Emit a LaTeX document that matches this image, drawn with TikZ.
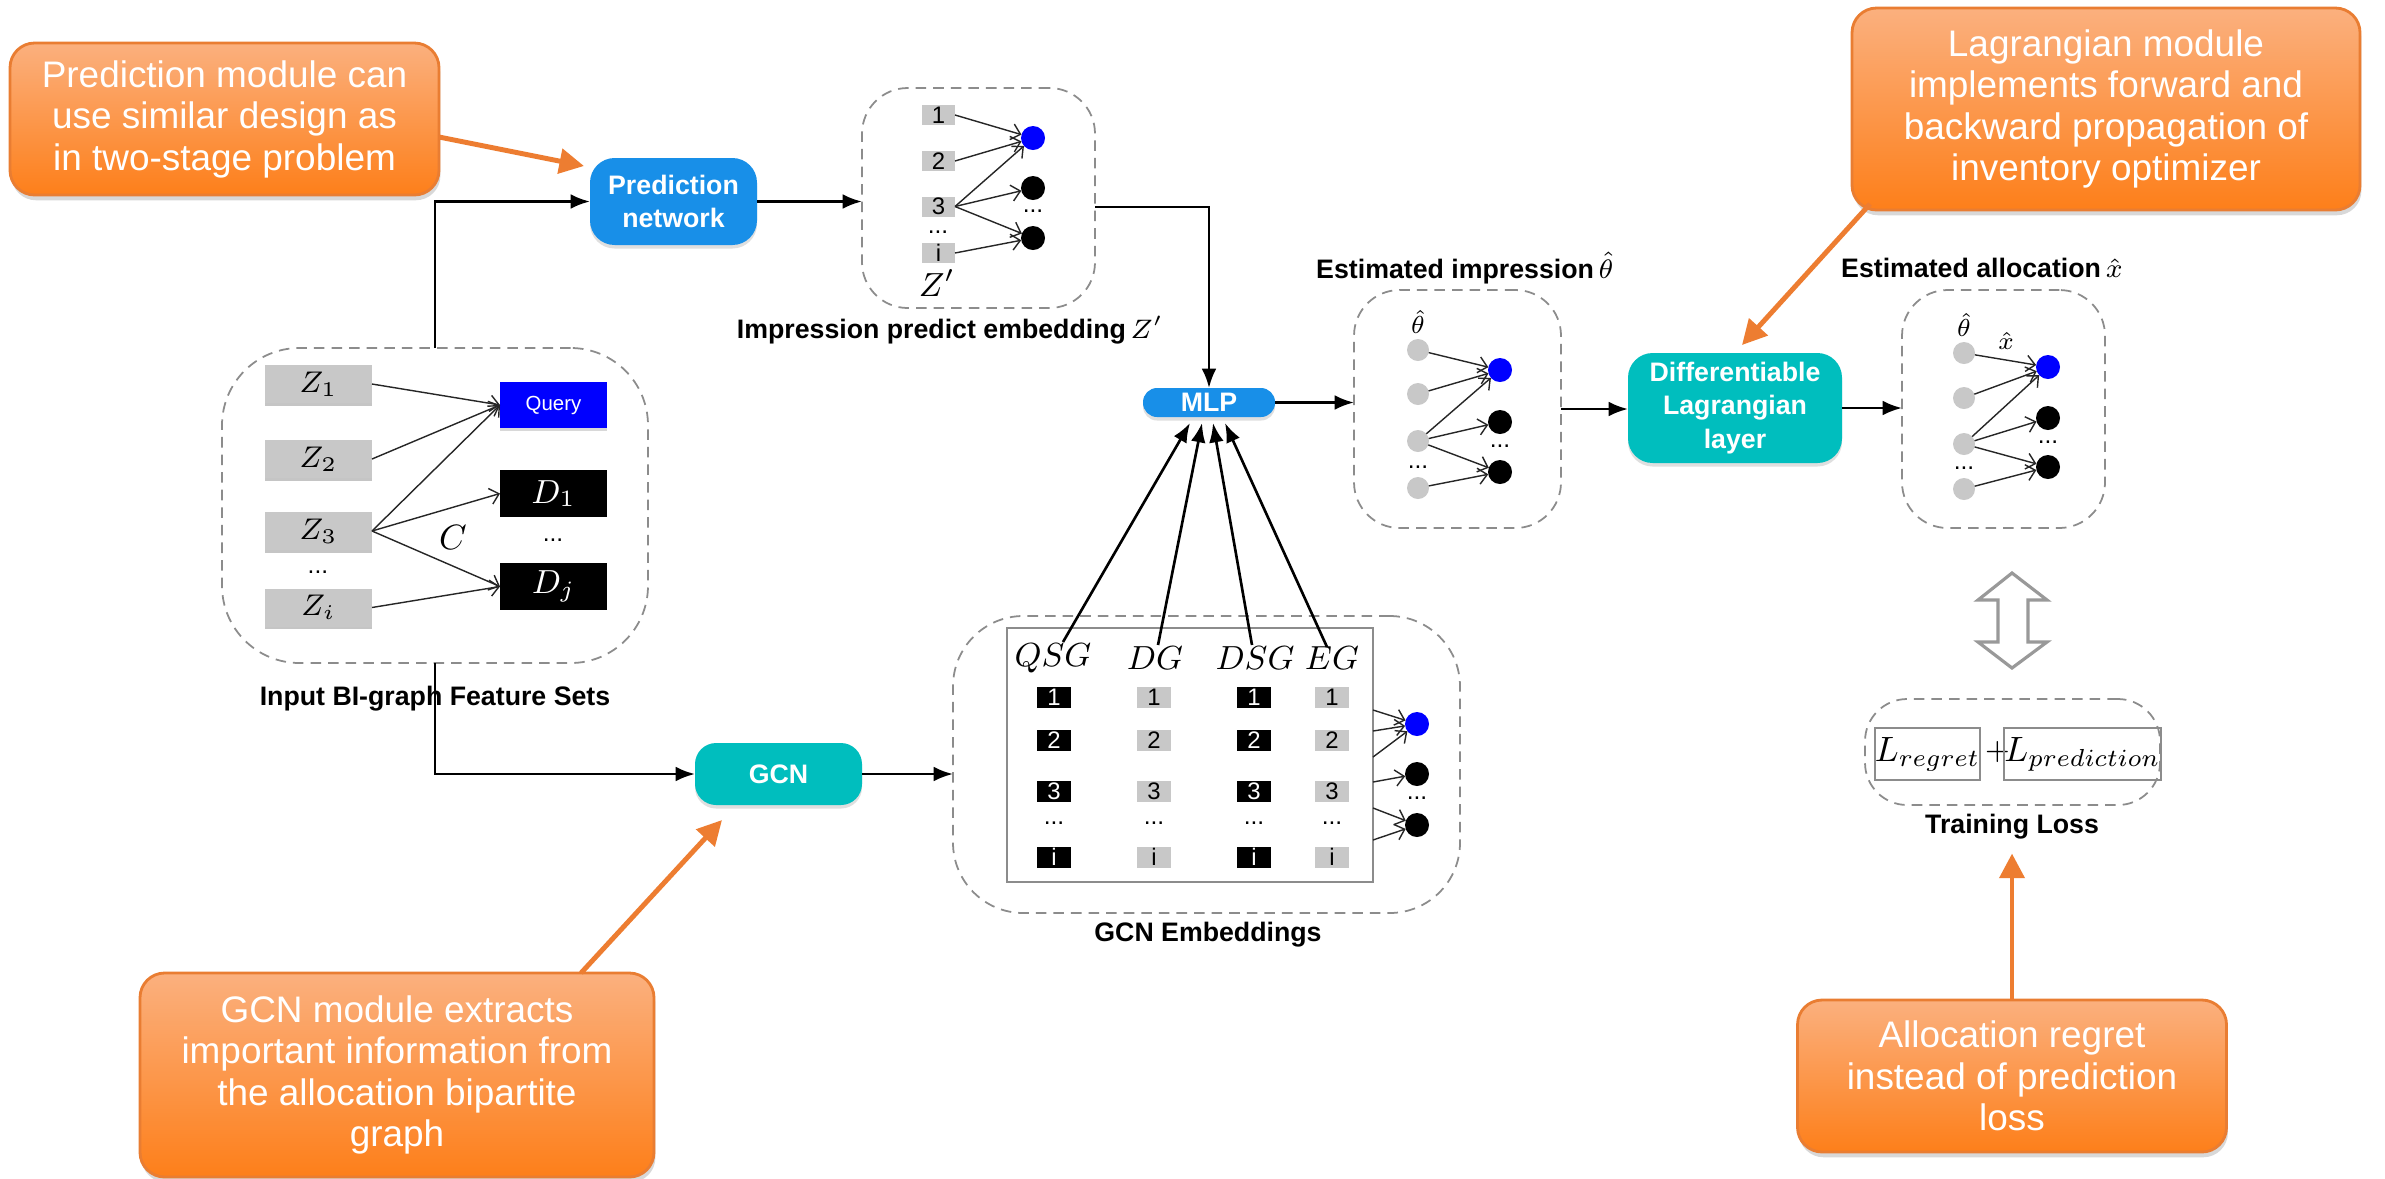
\RequirePackage{fix-cm}
\documentclass[tikz,border=0pt]{standalone}
\usepackage{fontspec}
\setmainfont{Liberation Sans}
\usetikzlibrary{arrows.meta,shadows,calc}
\definecolor{pnblue}{RGB}{24,143,232}
\definecolor{tealc}{RGB}{0,190,190}
\definecolor{orTop}{RGB}{251,176,126}
\definecolor{orBot}{RGB}{253,127,26}
\definecolor{orBorder}{RGB}{233,125,50}
\definecolor{orArrow}{RGB}{237,125,49}
\definecolor{dashgray}{RGB}{140,140,140}
\definecolor{lgray}{RGB}{200,200,200}
\newcommand\cfont{\fontsize{10.5}{11.8}\selectfont}
\newcommand\bfont{\fontsize{7.6}{9.6}\selectfont\bfseries}
\newcommand\lfont{\fontsize{7.6}{9}\selectfont\bfseries}
\newcommand\mfont{\fontsize{9.5}{10}\selectfont}
\newcommand\dfont{\fontsize{6.8}{7}\selectfont}
\begin{document}
\begin{tikzpicture}[x=0.01cm,y=-0.01cm,
 every node/.style={inner sep=0pt,outer sep=0pt},
 sz/.style 2 args={minimum width=#1*0.01cm,minimum height=#2*0.01cm},
 callout/.style={rounded corners=7pt,top color=orTop,bottom color=orBot,draw=orBorder,line width=0.8pt,text=white,align=center,font=\cfont,drop shadow={opacity=0.3,shadow xshift=0.4pt,shadow yshift=-1.5pt}},
 orarrow/.style={draw=orArrow,line width=1.4pt,-{Triangle[length=7pt,width=7pt]}},
 bluebox/.style={fill=pnblue,text=white,align=center,font=\bfont,drop shadow={opacity=0.25,shadow xshift=0pt,shadow yshift=-1pt}},
 tealbox/.style={fill=tealc,text=white,align=center,font=\bfont,drop shadow={opacity=0.25,shadow xshift=0pt,shadow yshift=-1pt}},
 grp/.style={draw=dashgray,dash pattern=on 3pt off 2pt,line width=0.5pt},
 lab/.style={font=\lfont},
 marrow/.style={line width=0.75pt,-{Latex[length=5.5pt,width=4.2pt]}},
 sarr/.style={draw=black!85,line width=0.4pt,-{Straight Barb[length=2.5pt,width=4.6pt]}},
 zbox/.style={fill=lgray,sz={107}{38},font=\fontsize{8.5}{9}\selectfont,drop shadow={opacity=0.45,shadow xshift=0pt,shadow yshift=-0.8pt}},
 dbox/.style={fill=black,text=white,sz={107}{47},font=\mfont},
 nb/.style={fill=lgray,sz={33}{20},font=\dfont},
 kb/.style={fill=black,text=white,sz={34}{21},font=\dfont},
 gb/.style={fill=lgray,sz={34}{21},font=\dfont},
 cb/.style={circle,fill=blue,minimum size=0.24cm},
 ck/.style={circle,fill=black,minimum size=0.24cm},
 cg/.style={circle,fill=lgray,minimum size=0.22cm},
 dots/.style={font=\fontsize{7}{7}\selectfont}
]
\fill[white] (0,0) rectangle (2385,1178);
\useasboundingbox (0,0) rectangle (2385,1178);

% ---------- callouts ----------
\node[callout,sz={429}{152}] (c1) at (224.5,119) {Prediction module can\\use similar design as\\in two-stage problem};
\node[callout,sz={508}{202}] (c2) at (2106,109) {Lagrangian module\\implements forward and\\backward propagation of\\inventory optimizer};
\node[callout,sz={514}{204}] (c3) at (397,1075) {GCN module extracts\\important information from\\the allocation bipartite\\graph};
\node[callout,sz={429}{152}] (c4) at (2012,1076) {Allocation regret\\instead of prediction\\loss};

% ---------- main blocks ----------
\node[bluebox,rounded corners=7pt,sz={167}{87}] (pn) at (673.5,201.5) {Prediction\\network};
\node[bluebox,rounded corners=4pt,sz={132}{29}] (mlp) at (1209,402.5) {MLP};
\node[tealbox,rounded corners=6pt,sz={167}{62}] (gcn) at (778.5,774) {GCN};
\node[tealbox,rounded corners=7pt,sz={214}{110}] (lag) at (1735,408) {Differentiable\\Lagrangian\\layer};

% ---------- dashed groups ----------
\node[grp,rounded corners=22pt,sz={426}{315}] (inbox) at (435,505.5) {};
\node[grp,rounded corners=13pt,sz={233}{220}] (emb) at (978.5,198) {};
\node[grp,rounded corners=20pt,sz={507}{297}] (gcnemb) at (1206.5,764.5) {};
\node[grp,rounded corners=13pt,sz={207}{238}] (imp) at (1457.5,409) {};
\node[grp,rounded corners=13pt,sz={203}{238}] (alloc) at (2003.5,409) {};
\node[grp,rounded corners=12pt,sz={295}{106}] (loss) at (2012.5,752) {};

% ---------- labels ----------
\node[lab] (inlab) at (435,699) {Input BI-graph Feature Sets};
\node[lab] (emblab) at (950,330) {Impression predict embedding\,$Z'$};
\node[lab] (implab) at (1465,268) {Estimated impression\,$\hat\theta$};
\node[lab] (alloclab) at (1982,268) {Estimated allocation\,$\hat x$};
\node[lab] (gcnlab) at (1208,935) {GCN Embeddings};
\node[lab] (tlab) at (2012,827) {Training Loss};

% ---------- input graph ----------
\node[zbox] (z1) at (318.5,384) {$Z_1$};
\node[zbox] (z2) at (318.5,459) {$Z_2$};
\node[zbox] (z3) at (318.5,531) {$Z_3$};
\node[dots] (zd) at (318,572) {...};
\node[zbox] (z4) at (318.5,607.5) {$Z_i$};
\node[fill=blue,text=white,sz={107}{46},font=\fontsize{5.8}{6}\selectfont,drop shadow={opacity=0.3,shadow xshift=0pt,shadow yshift=-0.8pt}] (q) at (553.5,405) {Query};
\node[dbox] (d1) at (553.5,493.5) {$D_1$};
\node[dots] (dd) at (553,540) {...};
\node[dbox] (dj) at (553.5,586.5) {$D_j$};
\node[font=\fontsize{10}{10}\selectfont] (cl) at (453,537) {$C$};
\draw[sarr] (z1.east) -- (q.west);
\draw[sarr] (z2.east) -- (q.west);
\draw[sarr] (z3.east) -- (q.west);
\draw[sarr] (z3.east) -- (d1.west);
\draw[sarr] (z3.east) -- (dj.west);
\draw[sarr] (z4.east) -- (dj.west);

% ---------- impression predict embedding ----------
\node[nb] (e1) at (938.5,115) {1};
\node[nb] (e2) at (938.5,161) {2};
\node[nb] (e3) at (938.5,206.5) {3};
\node[dots] (ed) at (938,232) {...};
\node[nb] (e4) at (938.5,253) {i};
\node[font=\mfont] (zp) at (937,283) {$Z'$};
\node[cb] (eb) at (1033,138) {};
\node[ck] (ek1) at (1033,188) {};
\node[dots] (ekd) at (1033,211) {...};
\node[ck] (ek2) at (1033,238) {};
\draw[sarr] (e1.east) -- (eb);
\draw[sarr] (e2.east) -- (eb);
\draw[sarr] (e3.east) -- (eb);
\draw[sarr] (e3.east) -- (ek1);
\draw[sarr] (e3.east) -- (ek2);
\draw[sarr] (e4.east) -- (ek2);

% ---------- GCN embeddings ----------
\node[draw=black!45,line width=0.5pt,sz={366}{254}] (tab) at (1190,755) {};
\node[font=\mfont] (h1) at (1053,658) {$QSG$};
\node[font=\mfont] (h2) at (1155,658) {$DG$};
\node[font=\mfont] (h3) at (1255,658) {$DSG$};
\node[font=\mfont] (h4) at (1332,658) {$EG$};
\foreach \r/\y in {1/697,2/740,3/791,i/857}{
  \node[kb] (qa\r) at (1054,\y) {\r};
  \node[gb] (qb\r) at (1154,\y) {\r};
  \node[kb] (qc\r) at (1254,\y) {\r};
  \node[gb] (qd\r) at (1332,\y) {\r};
}
\foreach \x/\n in {1054/a,1154/b,1254/c,1332/d}{
  \node[dots] (qdots\n) at (\x,823) {...};
}
\node[cb] (gb1) at (1417,724) {};
\node[ck] (gk1) at (1417,774) {};
\node[dots] (gkd) at (1417,798) {...};
\node[ck] (gk2) at (1417,825) {};
\coordinate (t1) at ($(tab.north east)+(0,82)$);
\coordinate (t2) at ($(tab.north east)+(0,103)$);
\coordinate (t3) at ($(tab.north east)+(0,129)$);
\coordinate (t4) at ($(tab.north east)+(0,154)$);
\coordinate (t5) at ($(tab.north east)+(0,180)$);
\coordinate (t6) at ($(tab.north east)+(0,212)$);
\draw[sarr] (t1) -- (gb1);
\draw[sarr] (t2) -- (gb1);
\draw[sarr] (t3) -- (gb1);
\draw[sarr] (t4) -- (gk1);
\draw[sarr] (t5) -- (gk2);
\draw[sarr] (t6) -- (gk2);

% ---------- estimated impression ----------
\node[font=\fontsize{7}{7}\selectfont] (ith) at (1418,322) {$\hat\theta$};
\node[cg] (i1) at (1418,350) {};
\node[cg] (i2) at (1418,394) {};
\node[cg] (i3) at (1418,441) {};
\node[dots] (idl) at (1418,467) {...};
\node[cg] (i4) at (1418,488) {};
\node[cb] (ib) at (1500,370) {};
\node[ck] (ik1) at (1500,422) {};
\node[dots] (idr) at (1500,446) {...};
\node[ck] (ik2) at (1500,472) {};
\draw[sarr] (i1) -- (ib);
\draw[sarr] (i2) -- (ib);
\draw[sarr] (i3) -- (ib);
\draw[sarr] (i3) -- (ik1);
\draw[sarr] (i3) -- (ik2);
\draw[sarr] (i4) -- (ik2);

% ---------- estimated allocation ----------
\node[font=\fontsize{7}{7}\selectfont] (ath) at (1964,325) {$\hat\theta$};
\node[font=\fontsize{7}{7}\selectfont] (axh) at (2006,341) {$\hat x$};
\node[cg] (a1) at (1964,353) {};
\node[cg] (a2) at (1964,398) {};
\node[cg] (a3) at (1964,444) {};
\node[dots] (adl) at (1964,468) {...};
\node[cg] (a4) at (1964,489) {};
\node[cb] (ab) at (2048,367) {};
\node[ck] (ak1) at (2048,418) {};
\node[dots] (adr) at (2048,442) {...};
\node[ck] (ak2) at (2048,467) {};
\draw[sarr] (a1) -- (ab);
\draw[sarr] (a2) -- (ab);
\draw[sarr] (a3) -- (ab);
\draw[sarr] (a3) -- (ak1);
\draw[sarr] (a3) -- (ak2);
\draw[sarr] (a4) -- (ak2);

% ---------- training loss ----------
\node[draw=black!45,line width=0.5pt,sz={105}{52},font=\fontsize{10}{11}\selectfont] (lr) at (1927.5,754) {$L_{regret}$};
\node[font=\fontsize{8.5}{9}\selectfont] (lplus) at (1997.5,752) {$+$};
\node[draw=black!45,line width=0.5pt,sz={135}{52},font=\fontsize{10}{11}\selectfont] (lp) at (2082.5,754) {$L_{prediction}$};
\draw[black!40,line width=0.9pt,line join=miter] (2012,573) -- (2047,600) -- (2028,600) -- (2028,642) -- (2047,642) -- (2012,668) -- (1978,642) -- (1998,642) -- (1998,600) -- (1978,600) -- cycle;

% ---------- main connectors ----------
\draw[marrow] (inbox.north) |- (pn.west);
\draw[marrow] (inbox.south) |- (gcn.west);
\draw[marrow] (pn.east) -- (pn.east -| emb.west);
\draw[marrow] ($(emb.east)+(0,9)$) -| (mlp.north);
\draw[marrow] (mlp.east) -- (mlp.east -| imp.west);
\draw[marrow] (imp.east) -- (imp.east -| lag.west);
\draw[marrow] (lag.east) -- (lag.east -| alloc.west);
\draw[marrow] (gcn.east) -- (gcn.east -| gcnemb.west);
\draw[marrow] ($(h1)+(10,-16)$) -- ($(mlp.south)+(-19,6)$);
\draw[marrow] ($(h2)+(3,-13)$) -- ($(mlp.south)+(-7,6)$);
\draw[marrow] ($(h3)+(-3,-13)$) -- ($(mlp.south)+(4,6)$);
\draw[marrow] ($(h4)+(-5,-11)$) -- ($(mlp.south)+(16,6)$);

% ---------- orange arrows ----------
\draw[orarrow] ($(c1.east)+(0,18)$) -- ($(pn.north west)+(-6,8)$);
\draw[orarrow] ($(c2.south west)+(18,-6)$) -- ($(lag.north)+(7,-8)$);
\draw[orarrow] ($(c3.north east)+(-73,0)$) -- ($(gcn.south west)+(27,15)$);
\draw[orarrow] (c4.north) -- ($(tlab.south)+(0,14)$);
\end{tikzpicture}
\end{document}
